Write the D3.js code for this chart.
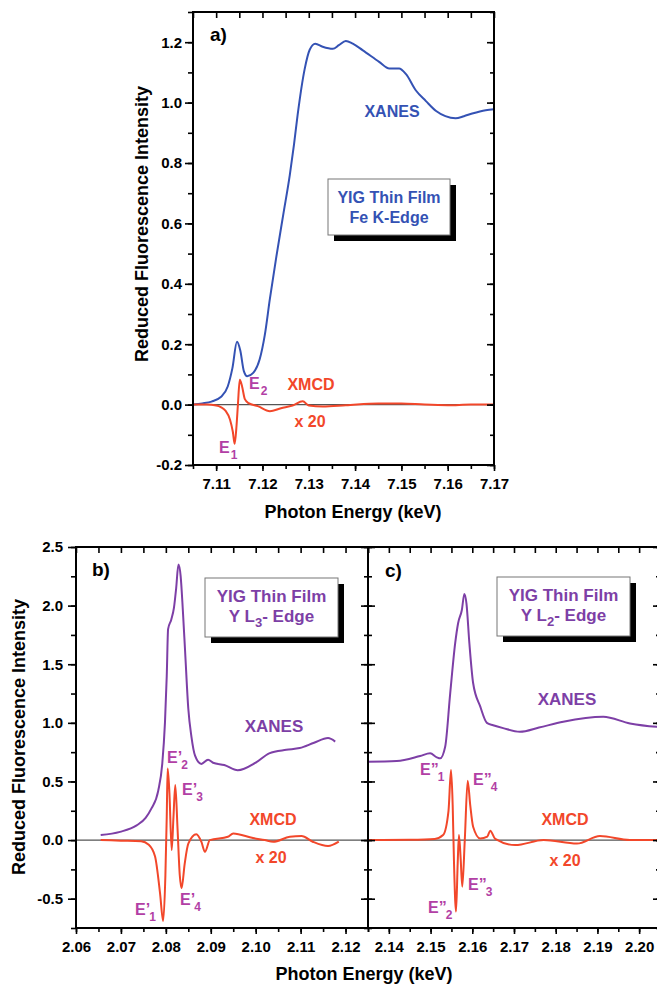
<!DOCTYPE html>
<html>
<head>
<meta charset="utf-8">
<script src="https://cdn.jsdelivr.net/npm/d3@7"></script>
<style>
body { margin: 0; background: #fff; }
svg text { font-family: "Liberation Sans", Arial, sans-serif; font-weight: bold; }
</style>
</head>
<body>
<svg id="chart" width="657" height="984"></svg>
<script>
// ---- panel a : Fe K-edge ----
var feXanesE = [7.105, 7.107, 7.109, 7.111, 7.1125, 7.1135, 7.1145, 7.1152, 7.116, 7.1167, 7.118, 7.1194, 7.1205, 7.1216, 7.123, 7.1245, 7.1259, 7.1268, 7.1276, 7.1291, 7.1302, 7.1314, 7.133, 7.1352, 7.1365, 7.138, 7.1395, 7.1416, 7.1452, 7.1474, 7.1495, 7.151, 7.1531, 7.1553, 7.1575, 7.1595, 7.1617, 7.1635, 7.1653, 7.1682, 7.17]
var feXanes = [0.0, 0.004, 0.01, 0.025, 0.06, 0.12, 0.208, 0.18, 0.11, 0.094, 0.105, 0.15, 0.23, 0.35, 0.49, 0.63, 0.76, 0.86, 0.96, 1.11, 1.175, 1.195, 1.185, 1.178, 1.19, 1.204, 1.195, 1.174, 1.135, 1.113, 1.113, 1.094, 1.041, 1.005, 0.972, 0.955, 0.948, 0.955, 0.964, 0.975, 0.978]
var feXmcdE = [7.105, 7.108, 7.110, 7.111, 7.112, 7.113, 7.1136, 7.114, 7.1144, 7.1147, 7.1151, 7.1156, 7.1162, 7.117, 7.119, 7.1216, 7.124, 7.1265, 7.1287, 7.13, 7.133, 7.138, 7.145, 7.15, 7.155, 7.16, 7.165, 7.17]
var feXmcd = [0, 0, -0.003, -0.008, -0.02, -0.05, -0.09, -0.13, -0.07, 0.0, 0.082, 0.06, 0.018, 0.005, -0.005, -0.022, -0.012, -0.003, 0.011, -0.003, -0.006, -0.002, 0.004, 0.004, 0.0, -0.002, 0.0, 0.0]
var feTicksMajor = [7.11, 7.12, 7.13, 7.14, 7.15, 7.16, 7.17]
var feYMajor = [-0.2, 0.0, 0.2, 0.4, 0.6, 0.8, 1.0, 1.2]

// ---- panel b : Y L3-edge ----
var l3XanesE = [2.0655, 2.0698, 2.0735, 2.0755, 2.0768, 2.0783, 2.0792, 2.0798, 2.0802, 2.0805, 2.0812, 2.0818, 2.0823, 2.0828, 2.0833, 2.0838, 2.0843, 2.085, 2.0857, 2.0865, 2.0879, 2.0894, 2.0905, 2.093, 2.096, 2.1, 2.103, 2.1068, 2.1098, 2.113, 2.1161, 2.1177]
var l3Xanes = [0.043, 0.07, 0.125, 0.19, 0.27, 0.42, 0.65, 1.0, 1.4, 1.8, 1.88, 1.98, 2.15, 2.35, 2.25, 1.95, 1.6, 1.12, 0.88, 0.72, 0.65, 0.685, 0.66, 0.64, 0.595, 0.66, 0.74, 0.77, 0.785, 0.83, 0.87, 0.84]
var l3XmcdE = [2.0655, 2.07, 2.0745, 2.0762, 2.0776, 2.0787, 2.0794, 2.0799, 2.0802, 2.0804, 2.0808, 2.0813, 2.0817, 2.0821, 2.0826, 2.0831, 2.0835, 2.0842, 2.085, 2.0868, 2.0879, 2.0887, 2.0898, 2.0938, 2.095, 2.0994, 2.102, 2.1039, 2.1076, 2.1102, 2.1127, 2.1161, 2.1185]
var l3Xmcd = [0, -0.005, -0.01, -0.04, -0.14, -0.45, -0.69, -0.3, 0.2, 0.61, 0.4, -0.085, 0.2, 0.47, 0.1, -0.3, -0.41, -0.2, -0.03, 0.05, -0.014, -0.1, 0.0, 0.028, 0.057, 0.017, 0.0, -0.014, 0.028, 0.034, -0.014, -0.051, -0.014]
var l3TicksMajor = [2.06, 2.07, 2.08, 2.09, 2.10, 2.11, 2.12]

// ---- panel c : Y L2-edge ----
var l2XanesE = [2.135, 2.1419, 2.1475, 2.1499, 2.1515, 2.1523, 2.1535, 2.1547, 2.1559, 2.1566, 2.1575, 2.1581, 2.1586, 2.1593, 2.1602, 2.1619, 2.1635, 2.165, 2.1674, 2.1714, 2.176, 2.1818, 2.1914, 2.1978, 2.2042, 2.205]
var l2Xanes = [0.668, 0.674, 0.717, 0.74, 0.706, 0.697, 0.796, 1.25, 1.68, 1.85, 1.963, 2.1, 2.02, 1.68, 1.34, 1.14, 1.0, 0.98, 0.955, 0.924, 0.96, 1.01, 1.052, 0.995, 0.967, 0.965]
var l2XmcdE = [2.135, 2.145, 2.151, 2.153, 2.1543, 2.1549, 2.1553, 2.1556, 2.1561, 2.1565, 2.1568, 2.1572, 2.1576, 2.1582, 2.1589, 2.1595, 2.1602, 2.1619, 2.1636, 2.1643, 2.1655, 2.1703, 2.1771, 2.1851, 2.1906, 2.1978, 2.205]
var l2Xmcd = [0, 0.003, 0.01, 0.043, 0.25, 0.597, 0.3, -0.17, -0.61, -0.2, 0.043, -0.15, -0.398, 0.0, 0.506, 0.3, 0.114, 0.014, 0.03, 0.08, 0.01, -0.043, 0.0, -0.03, 0.034, 0.0, 0.0]
var l2TicksMajor = [2.14, 2.15, 2.16, 2.17, 2.18, 2.19, 2.20]
var yLMajor = [-0.5, 0.0, 0.5, 1.0, 1.5, 2.0, 2.5]

var blue = "#3452b4", purple = "#7d3fa6", red = "#f2472a", magenta = "#b23fa5"

var svg = d3.select("#chart")

function minors(domain, step) {
  var out = []
  var start = Math.ceil(domain[0] / step - 1e-6)
  for (var i = start; i * step <= domain[1] + 1e-9; i++) out.push(+(i * step).toFixed(4))
  return out
}

function styleAxis(sel) {
  sel.select(".domain").remove()
  sel.selectAll(".tick line").attr("stroke", "#000").attr("stroke-width", 1.6)
  sel.selectAll(".tick text").attr("fill", "#000").style("font-size", "15px")
}

function drawPanel(p) {
  var g = svg.append("g")
  var x = d3.scaleLinear().domain(p.xDomain).range([p.left, p.right])
  var y = d3.scaleLinear().domain(p.yDomain).range([p.bottom, p.top])

  g.append("line")
    .attr("x1", p.left).attr("x2", p.right)
    .attr("y1", y(0)).attr("y2", y(0))
    .attr("stroke", "#555").attr("stroke-width", 1.3)

  var line = d3.line().x(d => x(d[0])).y(d => y(d[1])).curve(d3.curveMonotoneX)
  p.series.forEach(function(s) {
    g.append("path")
      .datum(d3.zip(s.e, s.v))
      .attr("d", line)
      .attr("fill", "none")
      .attr("stroke", s.color)
      .attr("stroke-width", 2)
  })

  var xMin = minors(p.xDomain, p.xMinorStep)
  var yMin = minors(p.yDomain, p.yMinorStep)

  // bottom (outward) + top (inward)
  styleAxis(g.append("g").attr("transform", "translate(0," + p.bottom + ")")
    .call(d3.axisBottom(x).tickValues(xMin).tickSize(4).tickFormat("")))
  styleAxis(g.append("g").attr("transform", "translate(0," + p.bottom + ")")
    .call(d3.axisBottom(x).tickValues(p.xMajor).tickSize(6).tickPadding(7).tickFormat(d => d.toFixed(2))))
  styleAxis(g.append("g").attr("transform", "translate(0," + p.top + ")")
    .call(d3.axisTop(x).tickValues(xMin).tickSize(-6).tickFormat("")))

  // left axis
  styleAxis(g.append("g").attr("transform", "translate(" + p.left + ",0)")
    .call(d3.axisLeft(y).tickValues(yMin).tickSize(p.leftMinor).tickFormat("")))
  styleAxis(g.append("g").attr("transform", "translate(" + p.left + ",0)")
    .call(d3.axisLeft(y).tickValues(p.yMajor).tickSize(p.leftMajor).tickPadding(p.yPad)
      .tickFormat(p.yLabels ? (d => d.toFixed(1)) : "")))
  if (p.inner) {
    // shared divider: ticks on both sides
    styleAxis(g.append("g").attr("transform", "translate(" + p.left + ",0)")
      .call(d3.axisRight(y).tickValues(yMin).tickSize(4).tickFormat("")))
    styleAxis(g.append("g").attr("transform", "translate(" + p.left + ",0)")
      .call(d3.axisRight(y).tickValues(p.yMajor).tickSize(7).tickFormat("")))
  }
  // right axis inward
  if (p.rightTicks) {
    styleAxis(g.append("g").attr("transform", "translate(" + p.right + ",0)")
      .call(d3.axisRight(y).tickValues(yMin).tickSize(-4).tickFormat("")))
    styleAxis(g.append("g").attr("transform", "translate(" + p.right + ",0)")
      .call(d3.axisRight(y).tickValues(p.yMajor).tickSize(-7).tickFormat("")))
  }

  g.append("rect")
    .attr("x", p.left).attr("y", p.top)
    .attr("width", p.right - p.left).attr("height", p.bottom - p.top)
    .attr("fill", "none").attr("stroke", "#000").attr("stroke-width", 2)
  return g
}

function label(txt, x, y, color, size, anchor) {
  return svg.append("text").attr("x", x).attr("y", y)
    .attr("fill", color).attr("text-anchor", anchor || "middle")
    .style("font-size", (size || 16) + "px").text(txt)
}

function eLabel(x, y, prime, sub) {
  var t = svg.append("text").attr("x", x).attr("y", y)
    .attr("fill", magenta).style("font-size", "16px")
  t.append("tspan").text("E" + prime)
  t.append("tspan").attr("dx", prime ? -1 : 1).attr("dy", 6)
    .style("font-size", "12px").text(sub)
}

function boxText(x0, y0, w, h, color, size, sub) {
  svg.append("rect").attr("x", x0 + 6).attr("y", y0 + 6).attr("width", w).attr("height", h).attr("fill", "#000")
  svg.append("rect").attr("x", x0).attr("y", y0).attr("width", w).attr("height", h)
    .attr("fill", "#fff").attr("stroke", "#777").attr("stroke-width", 1)
  var cx = x0 + w / 2
  label("YIG Thin Film", cx, y0 + 24, color, size)
  var t = svg.append("text").attr("x", cx).attr("y", y0 + 44)
    .attr("fill", color).attr("text-anchor", "middle").style("font-size", size + "px")
  if (sub) {
    t.append("tspan").text("Y L")
    t.append("tspan").attr("dy", 5).style("font-size", (size - 4) + "px").text(sub)
    t.append("tspan").attr("dy", -5).text("- Edge")
  } else {
    t.text("Fe K-Edge")
  }
}

// panel a
drawPanel({
  left: 193, right: 494, top: 12, bottom: 465,
  xDomain: [7.105, 7.17], yDomain: [-0.2, 1.3],
  xMajor: feTicksMajor, xMinorStep: 0.005,
  yMajor: feYMajor, yMinorStep: 0.1,
  leftMajor: 8, leftMinor: 5, yPad: 3, yLabels: true, rightTicks: true,
  series: [{e: feXanesE, v: feXanes, color: blue}, {e: feXmcdE, v: feXmcd, color: red}]
})

// panel b
drawPanel({
  left: 76, right: 368, top: 547, bottom: 928,
  xDomain: [2.06, 2.125], yDomain: [-0.75, 2.5],
  xMajor: l3TicksMajor, xMinorStep: 0.005,
  yMajor: yLMajor, yMinorStep: 0.25,
  leftMajor: 8, leftMinor: 5, yPad: 5, yLabels: true, rightTicks: false,
  series: [{e: l3XanesE, v: l3Xanes, color: purple}, {e: l3XmcdE, v: l3Xmcd, color: red}]
})

// panel c
drawPanel({
  left: 368, right: 660, top: 547, bottom: 928,
  xDomain: [2.135, 2.205], yDomain: [-0.75, 2.5],
  xMajor: l2TicksMajor, xMinorStep: 0.005,
  yMajor: yLMajor, yMinorStep: 0.25,
  leftMajor: 7, leftMinor: 4, yPad: 5, yLabels: false, inner: true, rightTicks: true,
  series: [{e: l2XanesE, v: l2Xanes, color: purple}, {e: l2XmcdE, v: l2Xmcd, color: red}]
})

// axis titles
label("Photon Energy (keV)", 353, 518, "#000", 18)
label("Photon Energy (keV)", 364, 980, "#000", 18)
svg.append("text").attr("transform", "translate(148,224) rotate(-90)")
  .attr("text-anchor", "middle").style("font-size", "18px").text("Reduced Fluorescence Intensity")
svg.append("text").attr("transform", "translate(25,737) rotate(-90)")
  .attr("text-anchor", "middle").style("font-size", "18px").text("Reduced Fluorescence Intensity")

// panel letters
label("a)", 210, 41, "#000", 19, "start")
label("b)", 92, 576, "#000", 19, "start")
label("c)", 385, 577, "#000", 19, "start")

// boxes
boxText(328, 179, 122, 56, blue, 16, null)
boxText(205, 578, 133, 59, purple, 17, "3")
boxText(497, 577, 133, 59, purple, 17, "2")

// curve labels
label("XANES", 392, 117, blue, 16)
label("XMCD", 311, 390, red, 16)
label("x 20", 310, 427, red, 16)
eLabel(219, 453, "", "1")
eLabel(249, 389, "", "2")

label("XANES", 274, 732, purple, 17)
label("XMCD", 273, 825, red, 16)
label("x 20", 271, 863, red, 16)
eLabel(135, 915, "\u2019", "1")
eLabel(167, 763, "\u2019", "2")
eLabel(182, 795, "\u2019", "3")
eLabel(180, 905, "\u2019", "4")

label("XANES", 567, 705, purple, 17)
label("XMCD", 565, 825, red, 16)
label("x 20", 565, 866, red, 16)
eLabel(420, 775, "\u201D", "1")
eLabel(428, 913, "\u201D", "2")
eLabel(468, 890, "\u201D", "3")
eLabel(473, 785, "\u201D", "4")
</script>
</body>
</html>
